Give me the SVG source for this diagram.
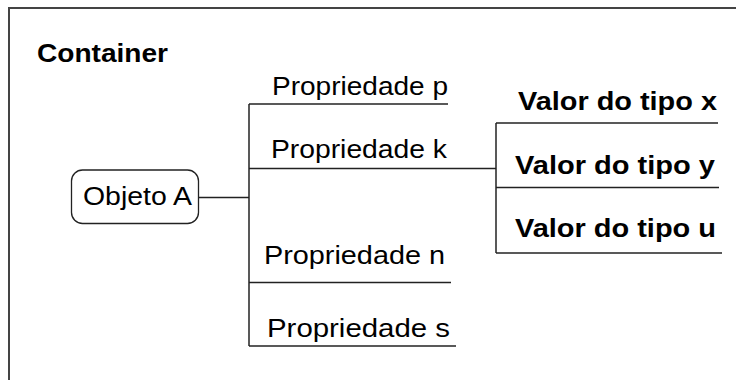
<svg xmlns="http://www.w3.org/2000/svg" width="736" height="380" viewBox="0 0 736 380">
  <style>
    .t { font-family: "Liberation Sans", Arial, sans-serif; font-size: 25px; fill: #000; }
    .b { font-weight: bold; }
    .ln { stroke: #222; stroke-width: 1.5; fill: none; }
    .frame { stroke: #444; stroke-width: 2; fill: none; }
  </style>
  <rect width="736" height="380" fill="#fff"/>
  <g id="container">
    <path class="frame" d="M9,382 V8 H738"/>
    <text class="t b" x="37" y="62" textLength="131" lengthAdjust="spacingAndGlyphs">Container</text>
  </g>
  <g id="connectors">
    <path class="ln" d="M198,197.5 H249"/>
    <path class="ln" d="M249,104 V346"/>
    <path class="ln" d="M249,104 H448"/>
    <path class="ln" d="M249,168.5 H496"/>
    <path class="ln" d="M249,282.5 H451"/>
    <path class="ln" d="M249,346 H456"/>
    <path class="ln" d="M496,123 V253"/>
    <path class="ln" d="M496,123 H718"/>
    <path class="ln" d="M496,187.5 H719"/>
    <path class="ln" d="M496,253 H722"/>
  </g>
  <g id="objetoA">
    <rect x="71.5" y="170" width="127" height="53.5" rx="11" ry="11" fill="#fff" stroke="#222" stroke-width="1.3"/>
    <text class="t" x="83" y="205" textLength="109" lengthAdjust="spacingAndGlyphs">Objeto A</text>
  </g>
  <g id="propP">
    <text class="t" x="272" y="95" textLength="176" lengthAdjust="spacingAndGlyphs">Propriedade p</text>
  </g>
  <g id="propK">
    <text class="t" x="271" y="158" textLength="176" lengthAdjust="spacingAndGlyphs">Propriedade k</text>
  </g>
  <g id="propN">
    <text class="t" x="264" y="264" textLength="181" lengthAdjust="spacingAndGlyphs">Propriedade n</text>
  </g>
  <g id="propS">
    <text class="t" x="267" y="336.5" textLength="183" lengthAdjust="spacingAndGlyphs">Propriedade s</text>
  </g>
  <g id="valorX">
    <text class="t b" x="518" y="109.5" textLength="199" lengthAdjust="spacingAndGlyphs">Valor do tipo x</text>
  </g>
  <g id="valorY">
    <text class="t b" x="515" y="174" textLength="200" lengthAdjust="spacingAndGlyphs">Valor do tipo y</text>
  </g>
  <g id="valorU">
    <text class="t b" x="515" y="236.5" textLength="201" lengthAdjust="spacingAndGlyphs">Valor do tipo u</text>
  </g>
</svg>
